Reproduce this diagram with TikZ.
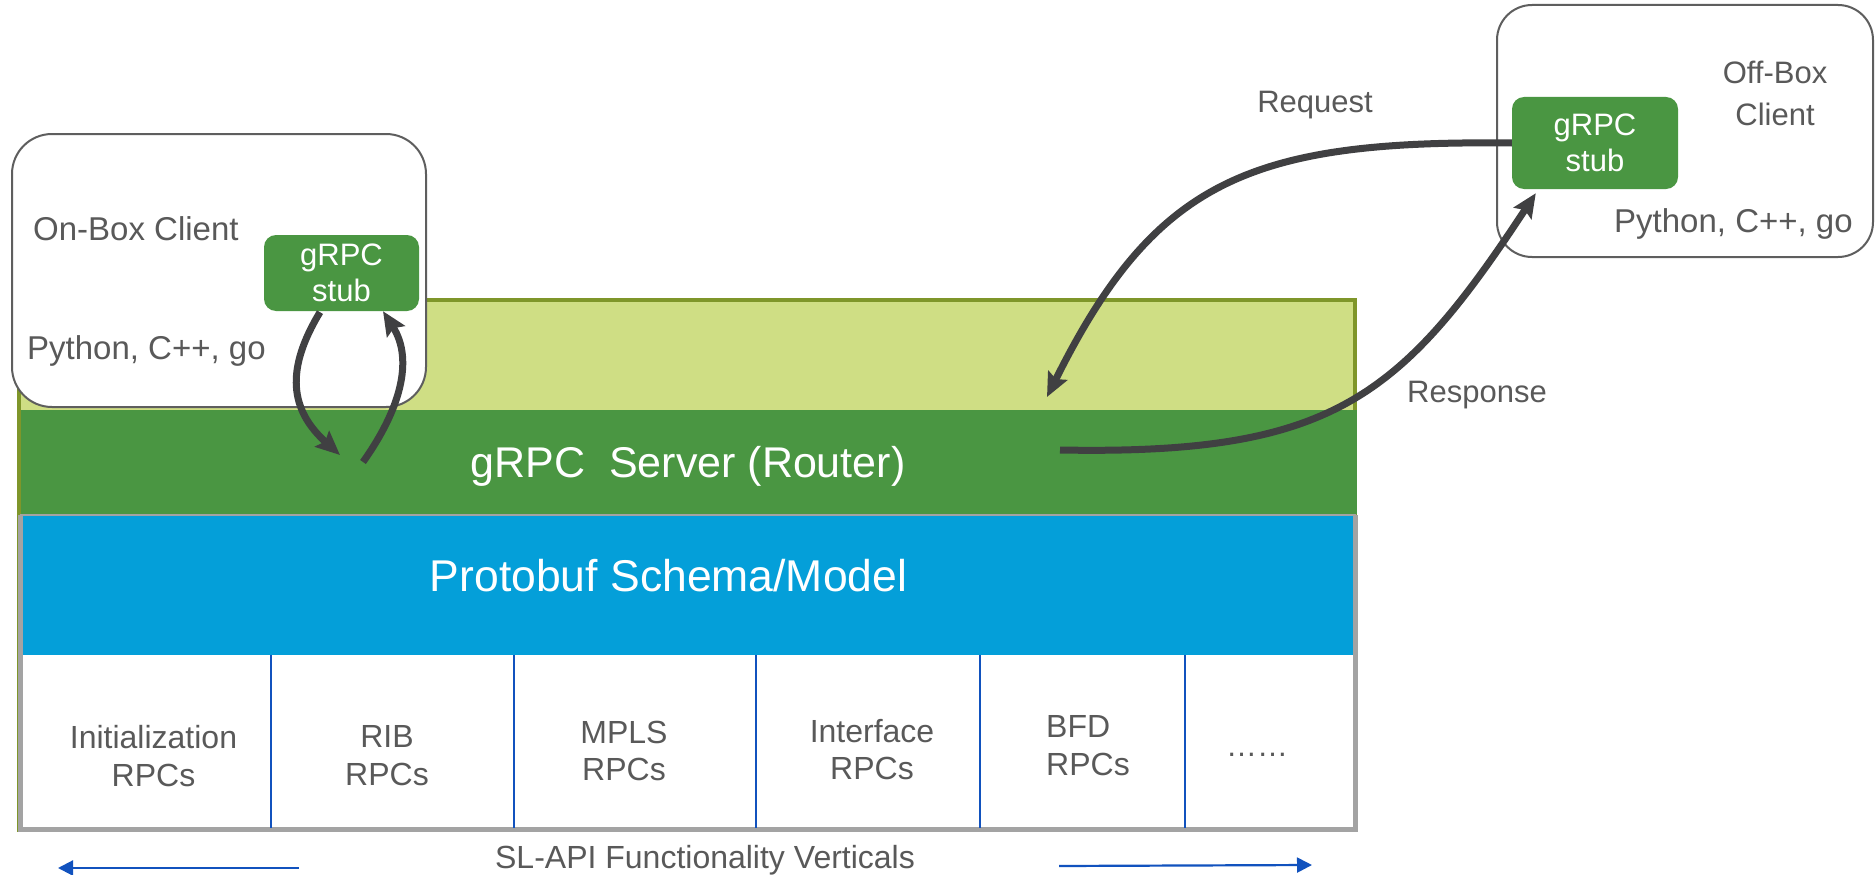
\documentclass[tikz,border=0pt]{standalone}
\usepackage{fontspec}
\setmainfont{Liberation Sans}
\usetikzlibrary{arrows.meta,calc}
\definecolor{lgreen}{HTML}{CFDE84}
\definecolor{dgreen}{HTML}{4A9642}
\definecolor{olivec}{HTML}{7F962A}
\definecolor{cblue}{HTML}{049FD9}
\definecolor{txtgray}{HTML}{595959}
\definecolor{framegray}{HTML}{A3A3A3}
\definecolor{linkblue}{HTML}{1152BE}
\definecolor{arrowgray}{HTML}{404042}
\definecolor{boxgray}{HTML}{5E5E5E}
\begin{document}
\begin{tikzpicture}[x=1pt,y=-1pt,
  lbl/.style={inner sep=0pt, text=txtgray, font=\fontsize{31}{38}\selectfont},
  cell/.style={inner sep=0pt, text=txtgray, font=\fontsize{32}{38}\selectfont},
  clbl/.style={inner sep=0pt, text=txtgray, font=\fontsize{33}{38}\selectfont},
  bigtext/.style={inner sep=0pt, text=white, font=\fontsize{43}{50}\selectfont},
  stubbox/.style={fill=dgreen, rounded corners=12pt, inner sep=0pt, text=white,
    align=center, font=\fontsize{31}{36}\selectfont},
  clientbox/.style={draw=boxgray, line width=2pt, fill=white, inner sep=0pt},
  bigarrow/.style={draw=arrowgray, line width=7pt,
    -{Stealth[length=24pt,width=21pt,inset=4pt]}},
  bluearrow/.style={draw=linkblue, line width=2.2pt,
    -{Triangle[length=15pt,width=15pt]}},
  divider/.style={draw=linkblue, line width=1.8pt}]
\useasboundingbox (0,0) rectangle (1875,875);
\fill[white] (0,0) rectangle (1875,875);

% main frame
\draw[olivec, line width=4pt, fill=lgreen] (19,300) rectangle (1355,830);
\fill[dgreen] (21,410) rectangle (1357,514);
\fill[cblue] (22,515) rectangle (1354,655);
\fill[white] (22,655) rectangle (1354,828);
\draw[framegray, line width=2pt] (20,514.5) -- (1356,514.5);
\draw[framegray, line width=5pt] (20.5,515) -- (20.5,829.5) -- (1355,829.5) -- (1355,515);

% dividers
\foreach \xx in {271,514,756,980,1185}
  \draw[divider] (\xx,655) -- (\xx,828);

% layer texts
\node[bigtext, anchor=base] (server) at (688,477) {gRPC\ \ Server (Router)};
\node[bigtext, anchor=base, font=\fontsize{44.5}{50}\selectfont] (proto) at (668.5,591) {Protobuf Schema/Model};

% cells
\node[cell, anchor=base] (c1a) at (153.5,748) {Initialization};
\node[cell, anchor=base] (c1b) at (153.5,786) {RPCs};
\node[cell, anchor=base] (c2a) at (387,747) {RIB};
\node[cell, anchor=base] (c2b) at (387,785) {RPCs};
\node[cell, anchor=base] (c3a) at (624,743) {MPLS};
\node[cell, anchor=base] (c3b) at (624,780) {RPCs};
\node[cell, anchor=base] (c4a) at (872,742) {Interface};
\node[cell, anchor=base] (c4b) at (872,779) {RPCs};
\node[cell, anchor=base west] (c5a) at (1046,737) {BFD};
\node[cell, anchor=base west] (c5b) at (1046,775) {RPCs};
\node[lbl, anchor=base] (c6) at (1257,756) {……};

% bottom caption and arrows
\node[cell, anchor=base] (slapi) at (705,868) {SL-API Functionality Verticals};
\coordinate (la1) at (299,868);
\coordinate (la2) at (58,868);
\coordinate (ra1) at (1059,866);
\coordinate (ra2) at (1312,865);
\draw[bluearrow] (la1) -- (la2);
\draw[bluearrow] (ra1) -- (ra2);

% on-box client
\node[clientbox, rounded corners=40pt, minimum width=414pt, minimum height=273pt] (onbox) at (219,270.5) {};
\node[clbl, anchor=base west] (onlbl) at (33,240) {On-Box Client};
\node[clbl, anchor=base west] (onlang) at (27,359) {Python, C++, go};
\node[stubbox, minimum width=155pt, minimum height=76pt] (onstub) at (341.5,273) {gRPC\\stub};

% off-box client
\node[clientbox, rounded corners=35pt, minimum width=376pt, minimum height=252pt] (offbox) at (1685,131) {};
\node[lbl, anchor=base] (offlbl1) at (1775,84) {Off-Box};
\node[lbl, anchor=base] (offlbl2) at (1775,125) {Client};
\node[clbl, anchor=base west] (offlang) at (1614,232) {Python, C++, go};
\node[stubbox, minimum width=166pt, minimum height=92pt] (offstub) at (1595,143) {gRPC\\stub};

% labels
\node[lbl, anchor=base] (req) at (1315,113) {Request};
\node[lbl, anchor=base] (resp) at (1477,402) {Response};

% connectors
\coordinate (onin) at (340,455);
\coordinate (onout) at (363,462);
\coordinate (reqend) at (1047,397);
\coordinate (respstart) at (1060,450);
\draw[bigarrow] ($(onstub.south)+(-21.5,1)$) .. controls (285,370) and (290,410) .. (onin);
\draw[bigarrow] (onout) .. controls (400,410) and (414,360) .. ($(onstub.south)+(41.5,0)$);
\draw[bigarrow] (offstub.west) .. controls (1250,140) and (1155,180) .. (reqend);
\draw[bigarrow] (respstart) .. controls (1330,455) and (1400,400) .. ($(offstub.south west)+(24,4)$);
\end{tikzpicture}
\end{document}
